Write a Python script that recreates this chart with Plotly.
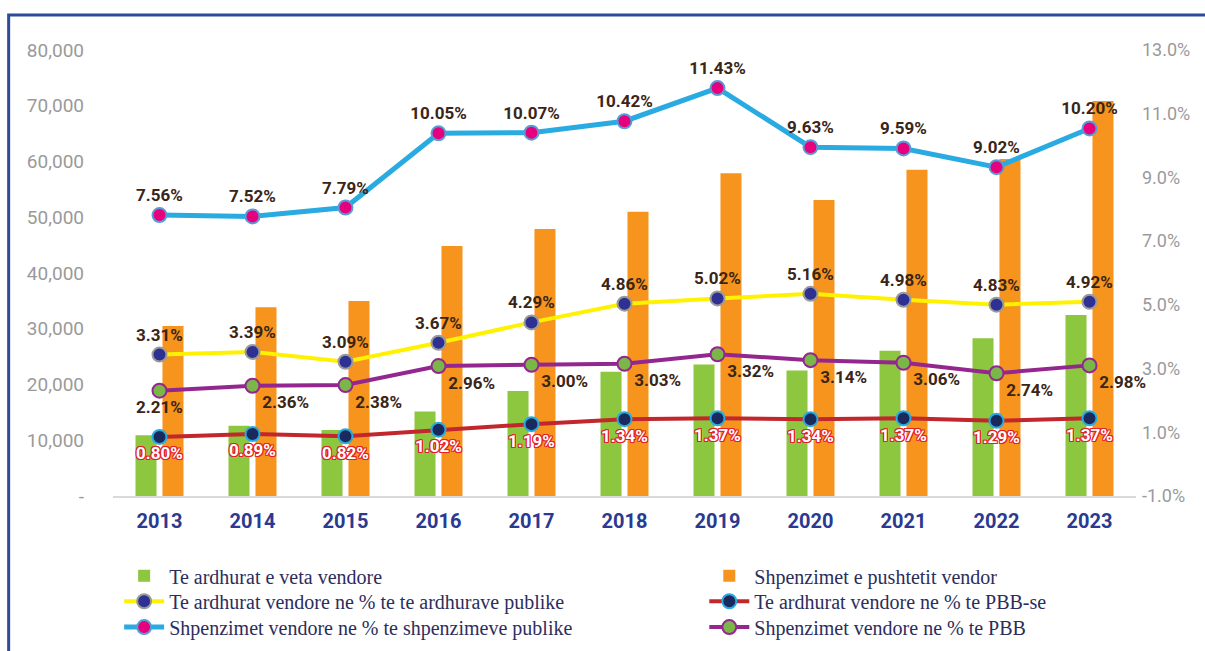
import plotly.graph_objects as go

years = ["2013", "2014", "2015", "2016", "2017", "2018", "2019", "2020", "2021", "2022", "2023"]

# Bars (left axis)
te_ardhurat_veta = [10900, 12600, 11850, 15150, 18850, 22300, 23600, 22500, 26050, 28300, 32450]
shpenzimet_pushtetit = [30500, 33850, 35000, 44850, 47900, 51000, 57900, 53100, 58500, 60450, 70850]

# Lines (percent)
ardh_pct_publike = [3.31, 3.39, 3.09, 3.67, 4.29, 4.86, 5.02, 5.16, 4.98, 4.83, 4.92]
ardh_pct_pbb = [0.80, 0.89, 0.82, 1.02, 1.19, 1.34, 1.37, 1.34, 1.37, 1.29, 1.37]
shp_pct_publike = [7.56, 7.52, 7.79, 10.05, 10.07, 10.42, 11.43, 9.63, 9.59, 9.02, 10.20]
shp_pct_pbb = [2.21, 2.36, 2.38, 2.96, 3.00, 3.03, 3.32, 3.14, 3.06, 2.74, 2.98]

left_ticks = [0, 10000, 20000, 30000, 40000, 50000, 60000, 70000, 80000]
left_ticktext = ["-", "10,000", "20,000", "30,000", "40,000", "50,000", "60,000", "70,000", "80,000"]
right_ticks = [-1, 1, 3, 5, 7, 9, 11, 13]
right_ticktext = ["-1.0%", "1.0%", "3.0%", "5.0%", "7.0%", "9.0%", "11.0%", "13.0%"]

NARROW = "Roboto, Liberation Sans Narrow, sans-serif"
SERIF = "Liberation Serif, Times New Roman, serif"
LABEL_COLOR = "#3b2516"
RED_OUTLINE = ", ".join("%dpx %dpx 0 #e4202a" % (dx, dy)
                        for dx in (-1, 0, 1) for dy in (-1, 0, 1) if dx or dy)

def pct(vals):
    return ["%.2f%%" % v for v in vals]

fig = go.Figure()

fig.add_trace(go.Bar(
    x=years, y=te_ardhurat_veta, name="Te ardhurat e veta vendore", legend="legend",
    marker=dict(color="#8dc63f", line=dict(width=0)), yaxis="y", hoverinfo="skip"))
fig.add_trace(go.Bar(
    x=years, y=shpenzimet_pushtetit, name="Shpenzimet e pushtetit vendor", legend="legend2",
    marker=dict(color="#f7941d", line=dict(width=0)), yaxis="y", hoverinfo="skip"))

fig.add_trace(go.Scatter(
    x=years, y=ardh_pct_publike, name="Te ardhurat vendore ne % te te ardhurave publike",
    legend="legend3", mode="lines+markers+text", yaxis="y3", cliponaxis=False,
    line=dict(color="#fff200", width=4),
    marker=dict(color="#2e3192", size=14, line=dict(color="#9a9a9a", width=2)),
    text=pct(ardh_pct_publike), textposition="top center",
    textfont=dict(family=NARROW, size=17, color=LABEL_COLOR, weight="bold")))

fig.add_trace(go.Scatter(
    x=years, y=ardh_pct_pbb, name="Te ardhurat vendore ne % te PBB-se",
    legend="legend4", mode="lines+markers+text", yaxis="y3", cliponaxis=False,
    line=dict(color="#c1272d", width=4),
    marker=dict(color="#1b2a5c", size=14, line=dict(color="#29abe2", width=2)),
    text=pct(ardh_pct_pbb), textposition="bottom center",
    textfont=dict(family=NARROW, size=17, color="white", weight="bold", shadow=RED_OUTLINE)))

fig.add_trace(go.Scatter(
    x=years, y=shp_pct_publike, name="Shpenzimet vendore ne % te shpenzimeve publike",
    legend="legend5", mode="lines+markers+text", yaxis="y3", cliponaxis=False,
    line=dict(color="#29abe2", width=5),
    marker=dict(color="#e6007e", size=14, line=dict(color="#5b9bd5", width=2)),
    text=pct(shp_pct_publike), textposition="top center",
    textfont=dict(family=NARROW, size=17, color=LABEL_COLOR, weight="bold")))

fig.add_trace(go.Scatter(
    x=years, y=shp_pct_pbb, name="Shpenzimet vendore ne % te PBB",
    legend="legend6", mode="lines+markers+text", yaxis="y3", cliponaxis=False,
    line=dict(color="#93278f", width=4),
    marker=dict(color="#7ab648", size=14, line=dict(color="#93278f", width=2)),
    text=pct(shp_pct_pbb),
    textposition=["bottom center"] + ["bottom right"] * (len(years) - 1),
    textfont=dict(family=NARROW, size=17, color=LABEL_COLOR, weight="bold")))

# invisible trace so the right-hand percent axis is drawn
fig.add_trace(go.Scatter(x=[years[0]], y=[None], yaxis="y2", showlegend=False, hoverinfo="skip"))

def leg(x, y):
    return dict(orientation="v", x=x, xanchor="left", y=y, yanchor="middle",
                font=dict(family=SERIF, size=20, color="#2b2d5c"),
                bgcolor="rgba(0,0,0,0)", borderwidth=0, itemwidth=40)

col1, col2 = 0.006, 0.578
row1, row2, row3 = -0.179, -0.236, -0.294

fig.update_layout(
    width=1205, height=651,
    margin=dict(l=113, r=69, t=50, b=155, autoexpand=False),
    paper_bgcolor="white", plot_bgcolor="white",
    barmode="group", bargap=0.42, bargroupgap=0.22,
    showlegend=True,
    legend=leg(col1, row1), legend2=leg(col2, row1),
    legend3=leg(col1, row2), legend4=leg(col2, row2),
    legend5=leg(col1, row3), legend6=leg(col2, row3),
    xaxis=dict(type="category", range=[-0.5, len(years) - 0.5], autorange=False,
               showgrid=False, showline=True, linecolor="#d9d9d9", linewidth=2,
               ticks="", tickfont=dict(family=NARROW, size=20, color="#2b3990", weight="bold"),
               ticklabelstandoff=6),
    yaxis=dict(range=[0, 80000], tickvals=left_ticks, ticktext=left_ticktext,
               showgrid=False, zeroline=False, showline=False, ticks="",
               tickfont=dict(family=NARROW, size=19, color="#9a9a9a"),
               ticklabelstandoff=28),
    yaxis2=dict(range=[-1, 13], overlaying="y", side="right", tickvals=right_ticks,
                ticktext=right_ticktext, showgrid=False, zeroline=False,
                showline=False, ticks="",
                tickfont=dict(family=NARROW, size=18, color="#9a9a9a"),
                ticklabelstandoff=5),
    yaxis3=dict(range=[-1, 12.59], overlaying="y", side="right", visible=False,
                showgrid=False, zeroline=False),
    shapes=[dict(type="rect", xref="paper", yref="paper",
                 x0=-0.102, x1=1.08, y0=-0.40, y1=1.0785,
                 line=dict(color="#2e4a9a", width=3), fillcolor="rgba(0,0,0,0)", layer="below")],
)

fig.write_html("out.html", config={"displayModeBar": False},
               post_script="document.body.style.margin='0';")
